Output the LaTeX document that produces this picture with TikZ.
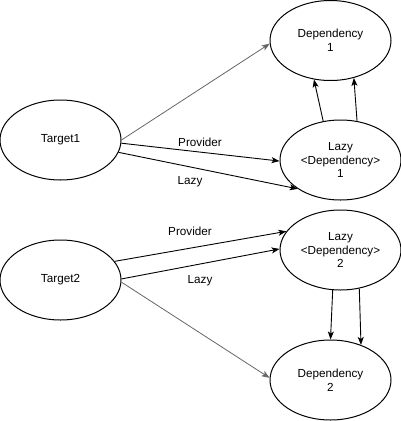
\documentclass[tikz,border=0pt]{standalone}
\usepackage{fontspec}
\setmainfont{Liberation Sans}
\usetikzlibrary{shapes.geometric,arrows.meta}
\begin{document}
\begin{tikzpicture}[x=1pt,y=-1pt,
  ell/.style={draw=black, line width=1pt, ellipse, minimum width=121pt, minimum height=80pt, inner sep=0pt, align=center, font=\fontsize{11.7}{13.8}\selectfont},
  arr/.style={draw=black, line width=0.9pt, -{Stealth[length=8pt,width=6pt,inset=2pt]}},
  garr/.style={draw=black!60, line width=0.8pt, -{Stealth[length=8pt,width=6pt,inset=2pt]}},
  lbl/.style={font=\fontsize{11.7}{13.8}\selectfont, inner sep=0pt}]
\useasboundingbox (0,0) rectangle (401,421);
\node[ell] (t1) at (60.5,140) {Target1};
\node[ell] (t2) at (60.5,280) {Target2};
\node[ell] (d1) at (330.5,40.5) {Dependency\\1};
\node[ell] (l1) at (340.5,160) {Lazy\\{<}Dependency{>}\\1};
\node[ell] (l2) at (340.5,250) {Lazy\\{<}Dependency{>}\\2};
\node[ell] (d2) at (330.5,380) {Dependency\\2};
% upper group
\draw[garr] (t1.0) -- (d1.183);
\draw[arr] (t1.-3) -- (l1.181);
\draw[arr] (t1.-12) -- (l1.214);
\draw[arr] (l1.114) -- (d1.247);
\draw[arr] (l1.67) -- (d1.302);
\node[lbl] (p1) at (200,142) {Provider};
\node[lbl] (z1) at (190,182) {Lazy};
% lower group
\draw[arr] (t2.19) -- (l2.161);
\draw[arr] (t2.1) -- (l2.179);
\draw[garr] (t2.-2) -- (d2.178);
\draw[arr] (l2.259) -- (d2.90);
\draw[arr] (l2.296) -- (d2.49);
\node[lbl] (p2) at (190,231) {Provider};
\node[lbl] (z2) at (200,281) {Lazy};
\end{tikzpicture}
\end{document}
